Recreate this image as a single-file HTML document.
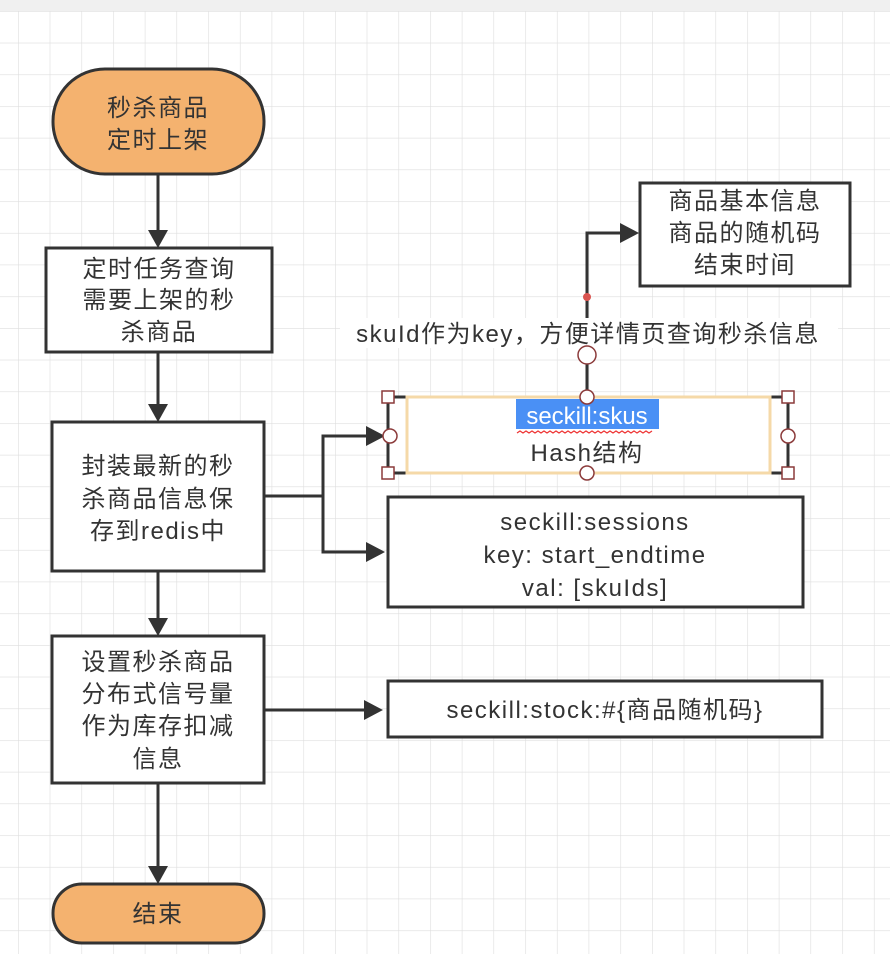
<!DOCTYPE html>
<html><head><meta charset="utf-8"><style>
html,body{margin:0;padding:0;background:#fff;}
svg{display:block;}
text{font-family:"Liberation Sans","Noto Sans CJK SC",sans-serif;fill:#333;font-size:24px;letter-spacing:1.5px;text-anchor:middle;}
</style></head><body>
<svg width="890" height="954" viewBox="0 0 890 954" xmlns="http://www.w3.org/2000/svg">
<defs>
<pattern id="g" x="18" y="11" width="31.7" height="31.7" patternUnits="userSpaceOnUse">
<path d="M0 0H31.7M0 0V31.7" stroke="#dedede" stroke-width="1.2" fill="none"/>
</pattern>
</defs>
<rect width="890" height="954" fill="#fff"/>
<rect y="11" width="890" height="943" fill="url(#g)"/>
<rect width="890" height="11" fill="#f0f0f0"/>
<g stroke="#333" stroke-width="3" fill="none">
<line x1="158" y1="174" x2="158" y2="230"/>
<line x1="158" y1="352" x2="158" y2="404"/>
<line x1="158" y1="571" x2="158" y2="618"/>
<line x1="158" y1="783" x2="158" y2="866"/>
<polyline points="264,496 323,496 323,436 368,436"/>
<polyline points="323,496 323,552 368,552"/>
<line x1="264" y1="710" x2="366" y2="710"/>
<polyline points="587,398 587,233 620,233"/>
</g>
<g fill="#333">
<polygon points="148,230 168,230 158,248"/>
<polygon points="148,404 168,404 158,422"/>
<polygon points="148,618 168,618 158,636"/>
<polygon points="148,866 168,866 158,884"/>
<polygon points="366,426 366,446 385,436"/>
<polygon points="366,542 366,562 385,552"/>
<polygon points="364,700 364,720 383,710"/>
<polygon points="620,223 620,243 639,233"/>
</g>
<g stroke="#333" stroke-width="3">
<rect x="53" y="69" width="211" height="105" rx="52" fill="#f4b26f"/>
<rect x="46" y="248" width="226" height="104" fill="#fff"/>
<rect x="52" y="422" width="212" height="149" fill="#fff"/>
<rect x="52" y="636" width="212" height="147" fill="#fff"/>
<rect x="53" y="884" width="211" height="59" rx="29" fill="#f4b26f"/>
<rect x="640" y="183" width="210" height="103" fill="#fff"/>
<rect x="388" y="497" width="415" height="110" fill="#fff"/>
<rect x="388" y="681" width="434" height="56" fill="#fff"/>
<rect x="388" y="397" width="400" height="76" fill="#fff"/>
</g>
<rect x="407" y="397" width="363" height="76" fill="none" stroke="#f5d9a8" stroke-width="3"/>
<text x="158" y="116">秒杀商品</text><text x="158" y="148">定时上架</text>
<text x="159" y="277">定时任务查询</text><text x="159" y="308">需要上架的秒</text><text x="159" y="340">杀商品</text>
<text x="158" y="474">封装最新的秒</text><text x="158" y="507">杀商品信息保</text><text x="158" y="539">存到redis中</text>
<text x="158" y="670">设置秒杀商品</text><text x="158" y="702">分布式信号量</text><text x="158" y="734">作为库存扣减</text><text x="158" y="767">信息</text>
<text x="158" y="922">结束</text>
<text x="745" y="209">商品基本信息</text><text x="745" y="241">商品的随机码</text><text x="745" y="273">结束时间</text>
<text x="595" y="530">seckill:sessions</text><text x="595" y="563">key: start_endtime</text><text x="595" y="596">val:  [skuIds]</text>
<text x="605" y="718">seckill:stock:#{商品随机码}</text>
<rect x="516" y="399" width="143" height="30" fill="#4a90f5"/>
<text x="587" y="424" style="fill:#fff;letter-spacing:0">seckill:skus</text>
<path d="M517 433 l3 -2 3 2 3 -2 3 2 3 -2 3 2 3 -2 3 2 3 -2 3 2 3 -2 3 2 3 -2 3 2 3 -2 3 2 3 -2 3 2 3 -2 3 2 3 -2 3 2 3 -2 3 2 3 -2 3 2 3 -2 3 2 3 -2 3 2 3 -2 3 2 3 -2 3 2 3 -2 3 2 3 -2 3 2 3 -2 3 2 3 -2 3 2 3 -2 3 2 3 -2" stroke="#e33" stroke-width="1.2" fill="none"/>
<text x="587" y="461">Hash结构</text>
<rect x="340" y="318" width="498" height="30" fill="#fff"/>
<text x="588" y="342">skuId作为key，方便详情页查询秒杀信息</text>
<circle cx="587" cy="297" r="4" fill="#d9534f"/>
<g fill="#fff" stroke="#8b3a3a" stroke-width="1.5">
<circle cx="587" cy="355" r="9"/>
<circle cx="390" cy="436" r="7"/><circle cx="788" cy="436" r="7"/>
<circle cx="587" cy="397" r="7"/><circle cx="587" cy="473" r="7"/>
<rect x="382" y="391" width="12" height="12"/><rect x="782" y="391" width="12" height="12"/>
<rect x="382" y="467" width="12" height="12"/><rect x="782" y="467" width="12" height="12"/>
</g>
</svg>
</body></html>
